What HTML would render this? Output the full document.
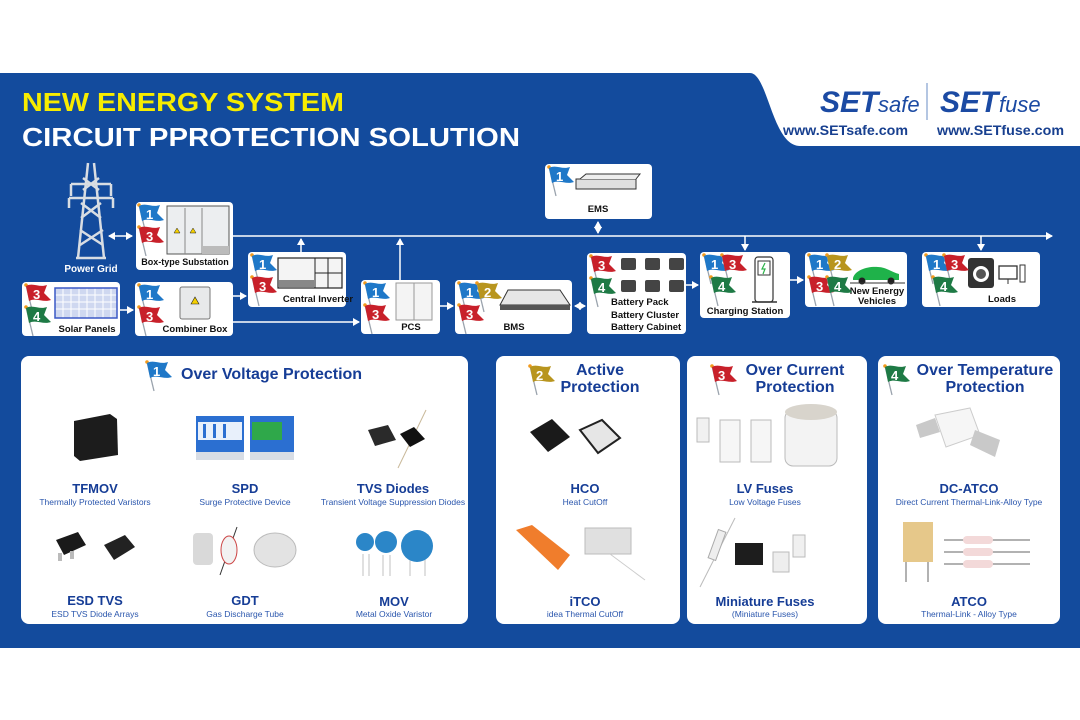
<!DOCTYPE html>
<html><head><meta charset="utf-8"><style>
html,body{margin:0;padding:0;background:#fff;}
svg{display:block;}
text{font-family:"Liberation Sans",Arial,sans-serif;}
</style></head><body>
<svg width="1080" height="720" viewBox="0 0 1080 720" xmlns="http://www.w3.org/2000/svg">
<defs>
<symbol id="fl" viewBox="0 0 30 32" overflow="visible">
<line x1="2" y1="2" x2="9" y2="31" stroke="#9aa3ad" stroke-width="1.3"/>
<circle cx="2" cy="2" r="1.8" fill="#f29a1c"/>
<path d="M2,3 C9,-1 15,5 23,2 L20,10 L27,17 C19,20 12,14 5,18 Z"/>
</symbol>
<marker id="ar" markerWidth="8" markerHeight="8" refX="6" refY="4" orient="auto" markerUnits="userSpaceOnUse"><path d="M0,0 L7,4 L0,8 Z" fill="#fff"/></marker>
<marker id="as" markerWidth="8" markerHeight="8" refX="1" refY="4" orient="auto" markerUnits="userSpaceOnUse"><path d="M7,0 L0,4 L7,8 Z" fill="#fff"/></marker>
</defs>

<path d="M0,73 L750,73 C768,73 772,146 800,146 L1080,146 L1080,648 L0,648 Z" fill="#134b9d"/>

<text x="22" y="111" font-size="26" font-weight="bold" fill="#f7ec00" textLength="322" lengthAdjust="spacingAndGlyphs">NEW ENERGY SYSTEM</text>
<text x="22" y="146" font-size="26" font-weight="bold" fill="#fff" textLength="498" lengthAdjust="spacingAndGlyphs">CIRCUIT PPROTECTION SOLUTION</text>

<text x="820" y="112" font-size="30" font-weight="bold" font-style="italic" fill="#1b4aa3">SET</text>
<text x="878" y="112" font-size="22" font-style="italic" fill="#1b4aa3" font-family="Liberation Serif">safe</text>
<line x1="927" y1="83" x2="927" y2="120" stroke="#9ab2d8" stroke-width="1.5"/>
<text x="940" y="112" font-size="30" font-weight="bold" font-style="italic" fill="#1b4aa3">SET</text>
<text x="999" y="112" font-size="22" font-style="italic" fill="#1b4aa3" font-family="Liberation Serif">fuse</text>
<text x="783" y="135" font-size="13.5" font-weight="bold" fill="#173f8f" textLength="125" lengthAdjust="spacingAndGlyphs">www.SETsafe.com</text>
<text x="937" y="135" font-size="13.5" font-weight="bold" fill="#173f8f" textLength="127" lengthAdjust="spacingAndGlyphs">www.SETfuse.com</text>

<g stroke="#fff" stroke-width="1.5" fill="none">
<line x1="233" y1="236" x2="1052" y2="236" marker-end="url(#ar)"/>
<line x1="109" y1="236" x2="132" y2="236" marker-start="url(#as)" marker-end="url(#ar)"/>
<line x1="301" y1="252" x2="301" y2="239" marker-end="url(#ar)"/>
<line x1="400" y1="280" x2="400" y2="239" marker-end="url(#ar)"/>
<line x1="598" y1="222" x2="598" y2="233" marker-start="url(#as)" marker-end="url(#ar)"/>
<line x1="745" y1="236" x2="745" y2="250" marker-end="url(#ar)"/>
<line x1="981" y1="236" x2="981" y2="250" marker-end="url(#ar)"/>
<line x1="120" y1="310" x2="133" y2="310" marker-end="url(#ar)"/>
<line x1="233" y1="296" x2="246" y2="296" marker-end="url(#ar)"/>
<line x1="233" y1="322" x2="359" y2="322" marker-end="url(#ar)"/>
<line x1="440" y1="306" x2="453" y2="306" marker-end="url(#ar)"/>
<line x1="575" y1="306" x2="585" y2="306" marker-start="url(#as)" marker-end="url(#ar)"/>
<line x1="686" y1="285" x2="698" y2="285" marker-end="url(#ar)"/>
<line x1="790" y1="280" x2="803" y2="280" marker-end="url(#ar)"/>
</g>

<!-- power grid tower -->
<g stroke="#d8dde3" stroke-width="2.5" fill="none">
<path d="M88,163 L78,258 M94,163 L104,258 M76,258 L106,258"/>
<path d="M80,245 L103,230 M80,230 L103,245 M81,218 L101,203 M81,203 L101,218 M83,190 L99,178 M83,178 L99,190"/>
<path d="M71,184 L111,184 M69,198 L113,198"/>
<path d="M71,184 L71,196 M111,184 L111,196 M69,198 L69,208 M113,198 L113,208"/>
</g>
<text x="91" y="272" font-size="10" font-weight="bold" fill="#fff" text-anchor="middle">Power Grid</text>

<g fill="#fff">
<rect x="136" y="202" width="97" height="68" rx="4"/>
<rect x="22" y="282" width="98" height="54" rx="4"/>
<rect x="135" y="282" width="98" height="54" rx="4"/>
<rect x="248" y="252" width="98" height="55" rx="4"/>
<rect x="361" y="280" width="79" height="54" rx="4"/>
<rect x="455" y="280" width="117" height="54" rx="4"/>
<rect x="545" y="164" width="107" height="55" rx="4"/>
<rect x="587" y="253" width="99" height="81" rx="4"/>
<rect x="700" y="252" width="90" height="66" rx="4"/>
<rect x="805" y="252" width="102" height="55" rx="4"/>
<rect x="922" y="252" width="118" height="55" rx="4"/>
</g>

<rect x="167" y="206" width="62" height="48" fill="#eceef0" stroke="#555" stroke-width="1"/>
<line x1="185" y1="208" x2="185" y2="254" stroke="#888"/><line x1="202" y1="208" x2="202" y2="254" stroke="#888"/>
<rect x="202" y="246" width="27" height="8" fill="#bbb"/>
<path d="M174,233 l3,-5 l3,5z M190,233 l3,-5 l3,5z" fill="#f5d000" stroke="#222" stroke-width=".5"/>
<text x="185" y="265" font-size="9" font-weight="bold" fill="#111" text-anchor="middle">Box-type Substation</text>
<rect x="55" y="288" width="62" height="30" fill="#cfd8f0"/>
<g stroke="#fff" stroke-width="1">
<path d="M55,295 H117 M55,302 H117 M55,309 H117 M63,288 V318 M71,288 V318 M79,288 V318 M87,288 V318 M95,288 V318 M103,288 V318 M111,288 V318"/>
</g>
<rect x="55" y="288" width="62" height="30" fill="none" stroke="#3a59c6" stroke-width="1.5"/>
<text x="87" y="332" font-size="9.5" font-weight="bold" fill="#111" text-anchor="middle">Solar Panels</text>
<rect x="180" y="287" width="30" height="32" rx="2" fill="#e8e9ea" stroke="#777"/>
<path d="M191,304 l4,-7 l4,7z" fill="#f5d000" stroke="#222" stroke-width=".6"/>
<text x="195" y="332" font-size="9.5" font-weight="bold" fill="#111" text-anchor="middle">Combiner Box</text>
<rect x="278" y="258" width="64" height="30" fill="#f4f4f4" stroke="#222" stroke-width="1.2"/>
<line x1="315" y1="258" x2="315" y2="288" stroke="#222"/><line x1="315" y1="273" x2="342" y2="273" stroke="#222"/><line x1="328" y1="258" x2="328" y2="288" stroke="#222"/>
<rect x="279" y="280" width="35" height="7" fill="#888"/>
<text x="318" y="302" font-size="9.5" font-weight="bold" fill="#111" text-anchor="middle">Central Inverter</text>
<rect x="396" y="283" width="36" height="37" fill="#f4f4f4" stroke="#999"/>
<line x1="414" y1="283" x2="414" y2="320" stroke="#999"/>
<text x="411" y="330" font-size="9.5" font-weight="bold" fill="#111" text-anchor="middle">PCS</text>
<path d="M500,305 L508,290 L560,290 L570,305 Z" fill="#e6e6e6" stroke="#333"/>
<rect x="500" y="305" width="70" height="5" fill="#555"/>
<text x="514" y="330" font-size="9.5" font-weight="bold" fill="#111" text-anchor="middle">BMS</text>
<rect x="576" y="179" width="60" height="10" fill="#e0e0e0" stroke="#333"/>
<path d="M580,179 L586,174 L640,174 L636,179" fill="#eee" stroke="#333"/>
<text x="598" y="212" font-size="9.5" font-weight="bold" fill="#111" text-anchor="middle">EMS</text>
<g fill="#444">
<rect x="621" y="258" width="15" height="12" rx="2"/><rect x="645" y="258" width="15" height="12" rx="2"/><rect x="669" y="258" width="15" height="12" rx="2"/>
<rect x="621" y="280" width="15" height="12" rx="2"/><rect x="645" y="280" width="15" height="12" rx="2"/><rect x="669" y="280" width="15" height="12" rx="2"/>
</g>
<text x="611" y="305" font-size="9.5" font-weight="bold" fill="#111">Battery Pack</text>
<text x="611" y="318" font-size="9.5" font-weight="bold" fill="#111">Battery Cluster</text>
<text x="611" y="330" font-size="9.5" font-weight="bold" fill="#111">Battery Cabinet</text>
<rect x="755" y="257" width="18" height="45" rx="3" fill="#fff" stroke="#333" stroke-width="1.2"/>
<rect x="758" y="261" width="12" height="14" fill="#fff" stroke="#333"/>
<path d="M765,263 l-3,6 h3 l-2,5" stroke="#2db34a" fill="none" stroke-width="1.2"/>
<line x1="752" y1="302" x2="777" y2="302" stroke="#333" stroke-width="1.5"/>
<text x="745" y="314" font-size="9.5" font-weight="bold" fill="#111" text-anchor="middle">Charging Station</text>
<path d="M853,278 C855,270 868,266 878,267 C885,267 892,272 899,274 L899,280 L853,280 Z" fill="#1fb24a"/>
<circle cx="862" cy="281" r="3.5" fill="#222"/><circle cx="891" cy="281" r="3.5" fill="#222"/>
<line x1="850" y1="283" x2="905" y2="283" stroke="#333"/>
<text x="877" y="294" font-size="9.5" font-weight="bold" fill="#111" text-anchor="middle">New Energy</text>
<text x="877" y="304" font-size="9.5" font-weight="bold" fill="#111" text-anchor="middle">Vehicles</text>
<rect x="968" y="258" width="26" height="30" rx="3" fill="#333"/>
<circle cx="981" cy="274" r="8" fill="#fff"/><circle cx="981" cy="274" r="5" fill="#555"/>
<rect x="999" y="266" width="18" height="13" fill="#fff" stroke="#333" stroke-width="1.3"/>
<line x1="1008" y1="279" x2="1008" y2="284" stroke="#333"/>
<rect x="1020" y="265" width="5" height="17" fill="#fff" stroke="#333"/>
<text x="1002" y="302" font-size="9.5" font-weight="bold" fill="#111" text-anchor="middle">Loads</text>

<g font-size="13" font-weight="bold" fill="#fff">
<use href="#fl" x="137" y="203" width="30" height="32" fill="#1f78c8"/><text x="146" y="219" fill="#fff">1</text>
<use href="#fl" x="137" y="225" width="30" height="32" fill="#c8202a"/><text x="146" y="241" fill="#fff">3</text>
<use href="#fl" x="24" y="283" width="30" height="32" fill="#c8202a"/><text x="33" y="299" fill="#fff">3</text>
<use href="#fl" x="24" y="305" width="30" height="32" fill="#1e7a45"/><text x="33" y="321" fill="#fff">4</text>
<use href="#fl" x="137" y="283" width="30" height="32" fill="#1f78c8"/><text x="146" y="299" fill="#fff">1</text>
<use href="#fl" x="137" y="305" width="30" height="32" fill="#c8202a"/><text x="146" y="321" fill="#fff">3</text>
<use href="#fl" x="250" y="253" width="30" height="32" fill="#1f78c8"/><text x="259" y="269" fill="#fff">1</text>
<use href="#fl" x="250" y="275" width="30" height="32" fill="#c8202a"/><text x="259" y="291" fill="#fff">3</text>
<use href="#fl" x="363" y="281" width="30" height="32" fill="#1f78c8"/><text x="372" y="297" fill="#fff">1</text>
<use href="#fl" x="363" y="303" width="30" height="32" fill="#c8202a"/><text x="372" y="319" fill="#fff">3</text>
<use href="#fl" x="457" y="281" width="30" height="32" fill="#1f78c8"/><text x="466" y="297" fill="#fff">1</text>
<use href="#fl" x="475" y="281" width="30" height="32" fill="#b8951e"/><text x="484" y="297" fill="#fff">2</text>
<use href="#fl" x="457" y="303" width="30" height="32" fill="#c8202a"/><text x="466" y="319" fill="#fff">3</text>
<use href="#fl" x="547" y="165" width="30" height="32" fill="#1f78c8"/><text x="556" y="181" fill="#fff">1</text>
<use href="#fl" x="589" y="254" width="30" height="32" fill="#c8202a"/><text x="598" y="270" fill="#fff">3</text>
<use href="#fl" x="589" y="276" width="30" height="32" fill="#1e7a45"/><text x="598" y="292" fill="#fff">4</text>
<use href="#fl" x="702" y="253" width="30" height="32" fill="#1f78c8"/><text x="711" y="269" fill="#fff">1</text>
<use href="#fl" x="720" y="253" width="30" height="32" fill="#c8202a"/><text x="729" y="269" fill="#fff">3</text>
<use href="#fl" x="709" y="275" width="30" height="32" fill="#1e7a45"/><text x="718" y="291" fill="#fff">4</text>
<use href="#fl" x="807" y="253" width="30" height="32" fill="#1f78c8"/><text x="816" y="269" fill="#fff">1</text>
<use href="#fl" x="825" y="253" width="30" height="32" fill="#b8951e"/><text x="834" y="269" fill="#fff">2</text>
<use href="#fl" x="807" y="275" width="30" height="32" fill="#c8202a"/><text x="816" y="291" fill="#fff">3</text>
<use href="#fl" x="825" y="275" width="30" height="32" fill="#1e7a45"/><text x="834" y="291" fill="#fff">4</text>
<use href="#fl" x="924" y="253" width="30" height="32" fill="#1f78c8"/><text x="933" y="269" fill="#fff">1</text>
<use href="#fl" x="942" y="253" width="30" height="32" fill="#c8202a"/><text x="951" y="269" fill="#fff">3</text>
<use href="#fl" x="931" y="275" width="30" height="32" fill="#1e7a45"/><text x="940" y="291" fill="#fff">4</text>
</g>

<g fill="#fff">
<rect x="21" y="356" width="447" height="268" rx="8"/>
<rect x="496" y="356" width="184" height="268" rx="8"/>
<rect x="687" y="356" width="180" height="268" rx="8"/>
<rect x="878" y="356" width="182" height="268" rx="8"/>
</g>

<g font-weight="bold" fill="#163d96">
<use href="#fl" x="145" y="360" width="30" height="32" fill="#1f78c8"/><text x="153" y="376" font-size="13" fill="#fff">1</text>
<text x="181" y="379" font-size="16">Over Voltage Protection</text>
<use href="#fl" x="528" y="364" width="30" height="32" fill="#b8951e"/><text x="536" y="380" font-size="13" fill="#fff">2</text>
<text x="600" y="375" font-size="16" text-anchor="middle">Active</text>
<text x="600" y="392" font-size="16" text-anchor="middle">Protection</text>
<use href="#fl" x="710" y="364" width="30" height="32" fill="#c8202a"/><text x="718" y="380" font-size="13" fill="#fff">3</text>
<text x="795" y="375" font-size="16" text-anchor="middle">Over Current</text>
<text x="795" y="392" font-size="16" text-anchor="middle">Protection</text>
<use href="#fl" x="883" y="364" width="30" height="32" fill="#1e7a45"/><text x="891" y="380" font-size="13" fill="#fff">4</text>
<text x="985" y="375" font-size="16" text-anchor="middle">Over Temperature</text>
<text x="985" y="392" font-size="16" text-anchor="middle">Protection</text>
</g>

<g font-weight="bold" fill="#163d96" font-size="13" text-anchor="middle">
<text x="95" y="493">TFMOV</text><text x="245" y="493">SPD</text><text x="393" y="493">TVS Diodes</text>
<text x="95" y="605">ESD TVS</text><text x="245" y="605">GDT</text><text x="394" y="606">MOV</text>
<text x="585" y="493">HCO</text><text x="585" y="606">iTCO</text>
<text x="765" y="493">LV Fuses</text><text x="765" y="606">Miniature Fuses</text>
<text x="969" y="493">DC-ATCO</text><text x="969" y="606">ATCO</text>
</g>
<g fill="#2a56ad" font-size="8.5" text-anchor="middle">
<text x="95" y="505">Thermally  Protected  Varistors</text><text x="245" y="505">Surge Protective Device</text><text x="393" y="505">Transient Voltage Suppression Diodes</text>
<text x="95" y="617">ESD TVS Diode Arrays</text><text x="245" y="617">Gas Discharge Tube</text><text x="394" y="617">Metal Oxide Varistor</text>
<text x="585" y="505">Heat CutOff</text><text x="585" y="617">idea Thermal CutOff</text>
<text x="765" y="505">Low Voltage Fuses</text><text x="765" y="617">(Miniature Fuses)</text>
<text x="969" y="505">Direct Current Thermal-Link-Alloy Type</text><text x="969" y="617">Thermal-Link - Alloy Type</text>
</g>

<path d="M74,421 L110,414 L117,419 L118,455 L80,461 L74,456 Z" fill="#1c1c1c"/>
<rect x="196" y="416" width="48" height="36" fill="#2b6fd1"/><rect x="198" y="422" width="44" height="18" fill="#e8f0fb"/>
<g fill="#2b6fd1"><rect x="203" y="424" width="3" height="14"/><rect x="213" y="424" width="3" height="14"/><rect x="223" y="424" width="3" height="14"/></g>
<rect x="196" y="452" width="48" height="8" fill="#d8dde5"/>
<rect x="250" y="416" width="44" height="36" fill="#2b6fd1"/><rect x="252" y="422" width="30" height="18" fill="#2fa84a"/>
<rect x="250" y="452" width="44" height="8" fill="#d8dde5"/>
<path d="M368,430 L388,425 L396,440 L375,446 Z" fill="#2a2a2a"/>
<line x1="398" y1="468" x2="426" y2="410" stroke="#c9b99a"/>
<path d="M400,434 L414,427 L425,439 L410,447 Z" fill="#111"/>
<path d="M56,540 L78,532 L86,545 L64,555 Z" fill="#1a1a1a"/>
<rect x="58" y="553" width="4" height="8" fill="#bbb"/><rect x="70" y="551" width="4" height="8" fill="#bbb"/>
<path d="M104,545 L125,535 L135,547 L114,560 Z" fill="#222"/>
<rect x="193" y="533" width="20" height="32" rx="4" fill="#d9d9d9"/>
<line x1="220" y1="575" x2="237" y2="527" stroke="#333"/>
<ellipse cx="229" cy="550" rx="8" ry="14" fill="#f2f2f2" stroke="#c44" stroke-width="1"/>
<ellipse cx="275" cy="550" rx="21" ry="17" fill="#e3e3e3" stroke="#bbb"/>
<g stroke="#ccc" stroke-width="1.2"><path d="M363,554 V576 M369,554 V576 M383,555 V576 M390,555 V576 M410,560 V576 M425,560 V576"/></g>
<circle cx="365" cy="542" r="9" fill="#2b86c8"/><circle cx="386" cy="542" r="11" fill="#2b86c8"/><circle cx="417" cy="546" r="16" fill="#2b86c8"/>
<path d="M530,432 L552,419 L570,437 L548,452 Z" fill="#1a1a1a"/>
<path d="M580,430 L602,420 L620,438 L598,453 Z" fill="#e6e6e6" stroke="#222" stroke-width="2"/>
<path d="M516,530 L532,525 L570,555 L558,570 Z" fill="#f07d2c"/>
<rect x="585" y="528" width="46" height="26" fill="#e0e0e0" stroke="#bbb"/>
<line x1="610" y1="554" x2="645" y2="580" stroke="#ccc"/>
<rect x="697" y="418" width="12" height="24" fill="#f1f1f1" stroke="#bbb"/>
<rect x="720" y="420" width="20" height="42" fill="#f6f6f6" stroke="#bbb"/>
<rect x="751" y="420" width="20" height="42" fill="#f6f6f6" stroke="#bbb"/>
<rect x="785" y="410" width="52" height="56" rx="8" fill="#f3f3f3" stroke="#bbb"/>
<ellipse cx="811" cy="412" rx="26" ry="8" fill="#d8d4cc"/>
<line x1="700" y1="587" x2="735" y2="518" stroke="#bbb"/>
<rect x="713" y="530" width="8" height="30" fill="#eee" stroke="#aaa" transform="rotate(20 717 545)"/>
<rect x="735" y="543" width="28" height="22" fill="#1d1d1d"/>
<rect x="773" y="552" width="16" height="20" fill="#eee" stroke="#bbb"/>
<rect x="793" y="535" width="12" height="22" fill="#f0f0f0" stroke="#bbb"/>
<path d="M916,425 L935,418 L940,432 L920,438 Z" fill="#c9c9c9"/>
<path d="M935,415 L970,408 L980,435 L946,447 Z" fill="#f6f6f6" stroke="#ccc"/>
<path d="M975,430 L1000,440 L995,457 L970,445 Z" fill="#c9c9c9"/>
<rect x="903" y="522" width="30" height="40" fill="#e6c88a"/>
<g stroke="#999" stroke-width="1.5"><path d="M906,562 V582 M928,562 V582 M944,540 H1030 M944,552 H1030 M944,564 H1030"/></g>
<g fill="#f3d9d9"><rect x="963" y="536" width="30" height="8" rx="4"/><rect x="963" y="548" width="30" height="8" rx="4"/><rect x="963" y="560" width="30" height="8" rx="4"/></g>
</svg>
</body></html>
